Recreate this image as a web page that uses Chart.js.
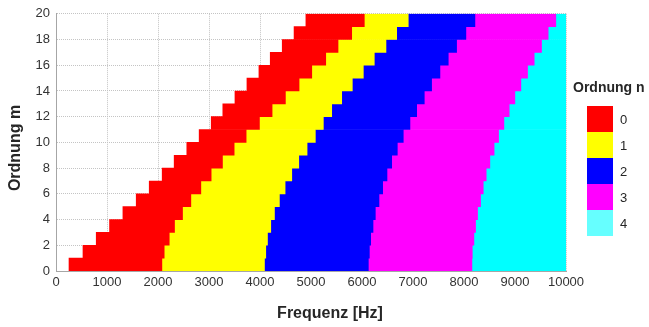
<!DOCTYPE html>
<html>
<head>
<meta charset="utf-8">
<script src="https://cdn.jsdelivr.net/npm/chart.js@4"></script>
<style>
  html, body { margin: 0; padding: 0; background: #fff; }
  #wrap { width: 649px; height: 327px; position: relative; }
</style>
</head>
<body>
<div id="wrap"><canvas id="chart"></canvas></div>
<script>
/* =========================================================
   DATA — cut-on frequency (Hz) of order n for every row m
   ========================================================= */
const ROW_M = [0, 1, 2, 3, 4, 5, 6, 7, 8, 9, 10, 11, 12, 13, 14, 15, 16, 17, 18, 19];

const START_N0 = [255, 529, 789, 1050, 1312, 1573, 1828, 2082, 2317, 2565,
                  2807, 3044, 3271, 3509, 3744, 3979, 4201, 4436, 4668, 4900];
const START_N1 = [2076, 2121, 2220, 2324, 2481, 2644, 2840, 3042, 3264, 3493,
                  3728, 3989, 4237, 4498, 4766, 5015, 5289, 5530, 5798, 6045];
const START_N2 = [4087, 4113, 4146, 4211, 4283, 4380, 4492, 4623, 4760, 4923,
                  5085, 5242, 5406, 5602, 5810, 6026, 6241, 6470, 6680, 6907];
const START_N3 = [6124, 6144, 6170, 6216, 6261, 6333, 6405, 6490, 6582, 6692,
                  6809, 6940, 7072, 7221, 7365, 7528, 7691, 7855, 8037, 8214];
const START_N4 = [8155, 8162, 8194, 8227, 8266, 8325, 8377, 8435, 8507, 8590,
                  8678, 8782, 8886, 8997, 9115, 9246, 9376, 9520, 9650, 9800];

const F_MAX = 10000;

const ORDER_LABELS = ['0', '1', '2', '3', '4'];
const ORDER_COLORS = ['#ff0000', '#ffff00', '#0000ff', '#ff00ff', '#00ffff'];
const LEGEND_COLORS = ['#ff0000', '#ffff00', '#0000ff', '#ff00ff', '#66ffff'];

const X_TITLE = 'Frequenz [Hz]';
const Y_TITLE = 'Ordnung m';
const LEGEND_TITLE = 'Ordnung n';

/* =========================================================
   DATASETS — one floating bar per (m, n) cell
   ========================================================= */
const STARTS = [START_N0, START_N1, START_N2, START_N3, START_N4];

const datasets = STARTS.map((arr, n) => ({
    label: ORDER_LABELS[n],
    data: ROW_M.map((m, i) => ({
        y: m + 0.5,
        x: [arr[i], n < STARTS.length - 1 ? STARTS[n + 1][i] : F_MAX]
    })),
    backgroundColor: ORDER_COLORS[n],
    borderWidth: 0,
    barPercentage: 1,
    categoryPercentage: 1,
    grouped: false
}));

/* =========================================================
   PLUGIN — axis titles and the order legend
   ========================================================= */
const FONT = '"Liberation Sans", Arial, sans-serif';

const decorations = {
    id: 'decorations',
    afterDraw(chart) {
        const ctx = chart.ctx;
        ctx.save();
        ctx.fillStyle = '#262626';

        // axis titles
        ctx.font = `bold 16px ${FONT}`;
        ctx.textAlign = 'center';
        ctx.textBaseline = 'middle';
        ctx.fillText(X_TITLE, 330, 314);

        ctx.save();
        ctx.translate(16, 148);
        ctx.rotate(-Math.PI / 2);
        ctx.fillText(Y_TITLE, 0, 0);
        ctx.restore();

        // legend
        ctx.font = `bold 14px ${FONT}`;
        ctx.textAlign = 'left';
        ctx.fillText(LEGEND_TITLE, 573, 88);

        ctx.font = `13px ${FONT}`;
        LEGEND_COLORS.forEach((c, i) => {
            const top = 106 + i * 26;
            ctx.fillStyle = c;
            ctx.fillRect(587, top, 26, 26);
            ctx.fillStyle = '#262626';
            ctx.fillText(ORDER_LABELS[i], 620, top + 14);
        });
        ctx.restore();
    }
};

/* =========================================================
   CHART
   ========================================================= */
const gridStyle = { color: '#c4c4c4', lineWidth: 1, drawTicks: false, offset: false };
const borderStyle = { display: true, color: '#a6a6a6', width: 1, dash: [1, 1] };

new Chart(document.getElementById('chart'), {
    type: 'bar',
    data: { datasets },
    plugins: [decorations],
    options: {
        indexAxis: 'y',
        responsive: true,
        maintainAspectRatio: false,
        animation: false,
        layout: { padding: { left: 0, top: 13, right: 83, bottom: 0 } },
        plugins: {
            legend: { display: false },
            tooltip: { enabled: false }
        },
        scales: {
            x: {
                type: 'linear',
                min: 0,
                max: F_MAX,
                offset: false,
                grid: gridStyle,
                border: borderStyle,
                ticks: {
                    stepSize: 1000,
                    autoSkip: false,
                    maxRotation: 0,
                    padding: 4,
                    color: '#333',
                    font: { family: FONT, size: 13 },
                    callback: v => String(v)
                },
                afterFit: s => { s.height = 56; }
            },
            y: {
                type: 'linear',
                min: 0,
                max: 20,
                offset: false,
                grid: gridStyle,
                border: borderStyle,
                ticks: {
                    stepSize: 2,
                    padding: 6,
                    color: '#333',
                    font: { family: FONT, size: 13 },
                    callback: v => String(v)
                },
                afterFit: s => { s.width = 56; }
            }
        }
    }
});
</script>
</body>
</html>
